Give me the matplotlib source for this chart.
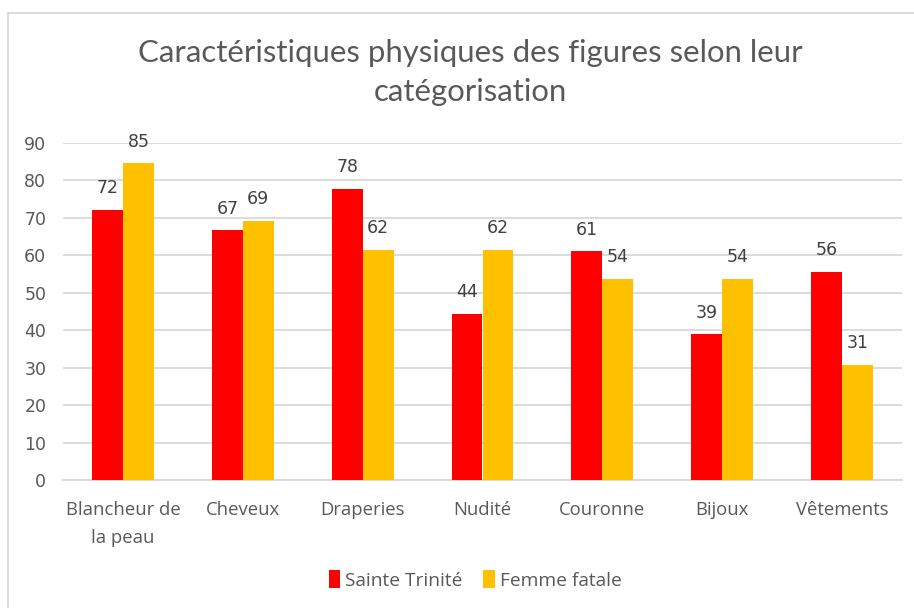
import matplotlib
matplotlib.use("Agg")
import matplotlib.pyplot as plt
from matplotlib.lines import Line2D
from matplotlib.patches import Patch
import numpy as np

categories = ["Blancheur de\nla peau", "Cheveux", "Draperies", "Nudité", "Couronne", "Bijoux", "Vêtements"]
sainte_trinite = [72.2, 66.7, 77.8, 44.4, 61.1, 38.9, 55.6]
femme_fatale = [84.6, 69.2, 61.5, 61.5, 53.8, 53.8, 30.8]
series_names = ["Sainte Trinité", "Femme fatale"]
yticks = [0, 10, 20, 30, 40, 50, 60, 70, 80, 90]
title = "Caractéristiques physiques des figures selon leur\ncatégorisation"

plt.rcParams['font.family'] = ['Lato', 'DejaVu Sans']
W, H = 914, 608
fig = plt.figure(figsize=(W / 100, H / 100), dpi=100)

ax = fig.add_axes([63 / W, 1 - 480 / H, (902 - 63) / W, (480 - 143) / H])
x = np.arange(len(categories))
bw = 0.258
red = "#FF0000"
yellow = "#FFC000"
b1 = ax.bar(x - bw / 2, sainte_trinite, bw, color=red, zorder=3)
b2 = ax.bar(x + bw / 2, femme_fatale, bw, color=yellow, zorder=3)

lab_col = "#404040"
num_font = ['DejaVu Sans']
for bars, vals in ((b1, sainte_trinite), (b2, femme_fatale)):
    for b, v in zip(bars, vals):
        ax.annotate(f"{v:.0f}", (b.get_x() + b.get_width() / 2, v), xytext=(0, 9),
                    textcoords="offset points", ha="center", va="bottom",
                    fontsize=12.5, color=lab_col, family=num_font)

ax.set_xlim(-0.5, len(categories) - 0.5)
ax.set_ylim(0, 90)
ax.set_yticks(yticks)
ax.set_yticklabels([str(t) for t in yticks], fontsize=12.5, color="#595959", family=num_font)
ax.set_xticks(x)
ax.set_xticklabels(categories, fontsize=13.3, color="#595959", linespacing=1.72,
                   family=['Open Sans', 'DejaVu Sans'])
ax.tick_params(axis="both", length=0)
ax.tick_params(axis="y", pad=12)
ax.tick_params(axis="x", pad=15)
ax.grid(axis="y", color="#D9D9D9", lw=1.3, zorder=0)
for s in ("top", "right", "left"):
    ax.spines[s].set_visible(False)
ax.spines["bottom"].set_color("#D9D9D9")
ax.spines["bottom"].set_linewidth(1.3)

fig.text(470 / W, 1 - 72.5 / H, title, ha="center", va="center", fontsize=22.4,
         color="#595959", linespacing=1.48)

handles = [Patch(facecolor=red), Patch(facecolor=yellow)]
fig.legend(handles, series_names, loc="center", bbox_to_anchor=(475 / W, 1 - 580 / H),
           ncol=2, frameon=False, prop={'family': ['Open Sans', 'DejaVu Sans'], 'size': 13.8},
           labelcolor="#595959",
           handlelength=0.6, handleheight=1.0, handletextpad=0.25, columnspacing=1.1)

# chart frame (top and left visible)
fig.add_artist(Line2D([8 / W, 1], [1 - 13 / H, 1 - 13 / H], color="#D9D9D9", lw=1.3))
fig.add_artist(Line2D([8 / W, 8 / W], [0, 1 - 13 / H], color="#D9D9D9", lw=1.3))

fig.savefig("out.png", dpi=100, facecolor="white")
